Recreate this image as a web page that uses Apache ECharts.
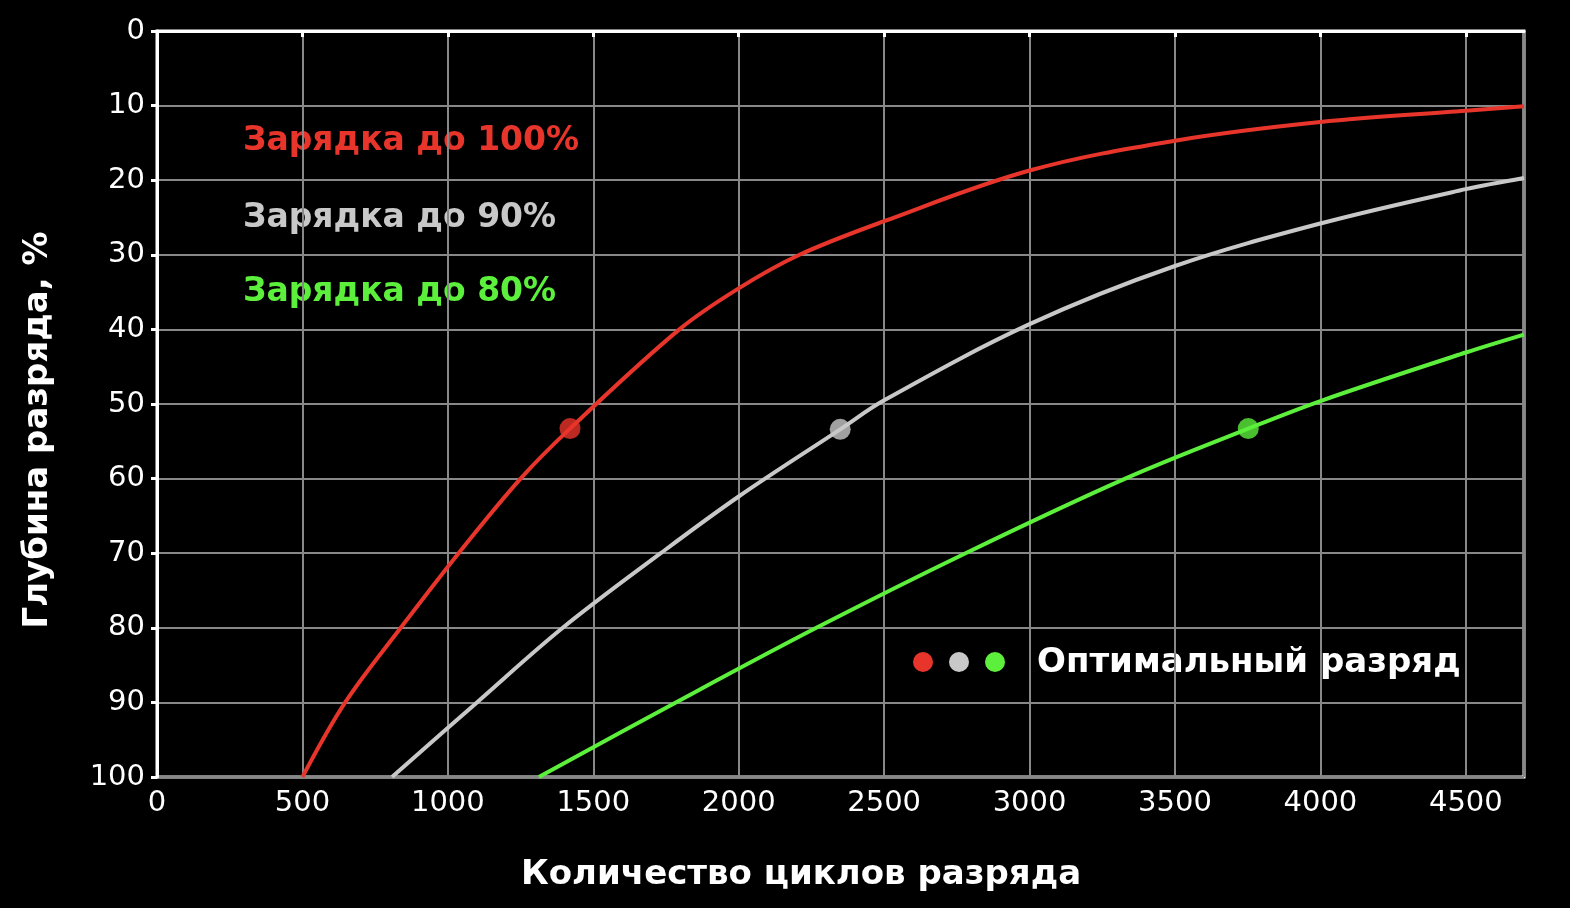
<!DOCTYPE html>
<html lang="ru">
<head>
    <meta charset="UTF-8">
    <title>Глубина разряда</title>
    <script src="https://cdn.jsdelivr.net/npm/echarts@6/dist/echarts.min.js"></script>
    <style>
        html, body { margin: 0; padding: 0; background: #000; }
        #main { width: 1570px; height: 908px; }
    </style>
</head>
<body>
<div id="main"></div>
<script>
    // точки кривых: [циклы, глубина разряда %]
    var charge100 = [[500, 100], [647, 90], [838, 80], [1037, 70], [1250, 60],
        [1420, 53.3], [1796, 40], [2000, 34.5], [2209, 30], [2500, 25.5], [3000, 18.7],
        [3500, 14.7], [4000, 12.2], [4500, 10.7], [4700, 10.1]];
    var charge90 = [[808, 100], [1100, 90], [1395, 80], [1732, 70], [2000, 62.4], [2349, 53.4],
        [2500, 49.5], [3000, 39.3], [3500, 31.5], [4000, 25.8], [4500, 21.2], [4700, 19.7]];
    var charge80 = [[1313, 100], [1784, 90], [2267, 80], [2780, 70], [3329, 60], [3752, 53.3],
        [4000, 49.6], [4500, 43.1], [4700, 40.7]];
    // оптимальный разряд
    var optimum = [[1420, 53.3], [2349, 53.4], [3752, 53.3]];
    var seriesNames = ['Зарядка до 100%', 'Зарядка до 90%', 'Зарядка до 80%'];
    var colors = ['#e8352b', '#c8c8c8', '#5cf03c'];

    var myChart = echarts.init(document.getElementById('main'));

    var boldFont = 'bold 34px "DejaVu Sans"';
    var labelFont = 'bold 33px "DejaVu Sans"';

    function lineSeries(i, data) {
        return {
            name: seriesNames[i], type: 'line', data: data,
            smooth: 0.35, showSymbol: false,
            lineStyle: {color: colors[i], width: 4}
        };
    }

    var option = {
        backgroundColor: '#000',
        animation: false,
        grid: {
            left: 157, top: 31, right: 46, bottom: 131,
            show: true, borderColor: '#fff', borderWidth: 3
        },
        xAxis: {
            type: 'value',
            min: 0, max: 4700, interval: 500,
            axisLine: {show: true, lineStyle: {color: '#fff', width: 3}},
            axisTick: {show: true, length: 6, lineStyle: {color: '#fff', width: 3}},
            axisLabel: {
                color: '#fff', fontFamily: 'DejaVu Sans', fontSize: 29, margin: 12,
                showMaxLabel: false,
                formatter: function (v) { return String(v); }
            },
            splitLine: {lineStyle: {color: '#888', width: 2}}
        },
        yAxis: {
            type: 'value',
            inverse: true,
            min: 0, max: 100, interval: 10,
            axisLine: {show: true, lineStyle: {color: '#fff', width: 3}},
            axisTick: {show: true, length: 6, lineStyle: {color: '#fff', width: 3}},
            axisLabel: {color: '#fff', fontFamily: 'DejaVu Sans', fontSize: 29, margin: 12},
            splitLine: {lineStyle: {color: '#888', width: 2}}
        },
        graphic: [
            {type: 'text', x: 243, y: 141, style: {text: seriesNames[0], fill: colors[0], font: labelFont, verticalAlign: 'middle'}},
            {type: 'text', x: 243, y: 218, style: {text: seriesNames[1], fill: colors[1], font: labelFont, verticalAlign: 'middle'}},
            {type: 'text', x: 243, y: 292, style: {text: seriesNames[2], fill: colors[2], font: labelFont, verticalAlign: 'middle'}},
            {type: 'circle', shape: {cx: 923, cy: 662, r: 10}, style: {fill: colors[0]}},
            {type: 'circle', shape: {cx: 959, cy: 662, r: 10}, style: {fill: colors[1]}},
            {type: 'circle', shape: {cx: 995, cy: 662, r: 10}, style: {fill: colors[2]}},
            {type: 'text', x: 1037, y: 663, style: {text: 'Оптимальный разряд', fill: '#fff', font: boldFont, verticalAlign: 'middle'}},
            {type: 'text', x: 801, y: 875, style: {
                text: 'Количество циклов разряда', fill: '#fff', font: boldFont,
                align: 'center', verticalAlign: 'middle'}},
            {type: 'text', x: 38, y: 430, rotation: Math.PI / 2, style: {
                text: 'Глубина разряда, %', fill: '#fff', font: boldFont,
                align: 'center', verticalAlign: 'middle'}}
        ],
        series: [
            lineSeries(0, charge100),
            lineSeries(1, charge90),
            lineSeries(2, charge80),
            {name: 'Оптимальный разряд', type: 'scatter', data: optimum, symbolSize: 21, z: 5,
                itemStyle: {
                    color: function (p) { return colors[p.dataIndex]; }
                }}
        ]
    };

    myChart.setOption(option);
</script>
</body>
</html>
